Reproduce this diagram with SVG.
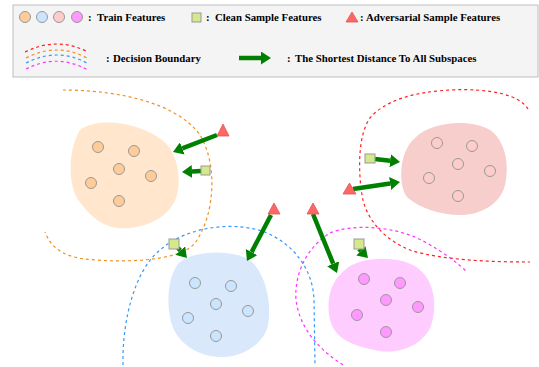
<svg xmlns="http://www.w3.org/2000/svg" width="539" height="367" viewBox="0 0 539 367">
<defs>
<marker id="ah" markerUnits="userSpaceOnUse" markerWidth="10" markerHeight="13" refX="0" refY="6.5" orient="auto"><path d="M0,0 L10,6.5 L0,13 Z" fill="#008000"/></marker>
<style>
.lt{font-family:"Liberation Serif","Times New Roman",serif;font-weight:bold;font-size:10.8px;fill:#000}
.pt{stroke:#999;stroke-width:1}
.o{fill:#ffcc99}.b{fill:#cce5ff}.r{fill:#ffcccc}.m{fill:#ff99ff}
.sq{fill:#d4e88c;stroke:#999;stroke-width:1}
.tr{fill:#f66;stroke:#e05555;stroke-width:0.8}
.db{fill:none;stroke-width:1.2;stroke-dasharray:3 3}
.ar{stroke:#008000;stroke-width:4.5;fill:none;marker-end:url(#ah)}
</style>
</defs>
<rect width="539" height="367" fill="#fff"/>
<g id="legend">
<rect x="13" y="5" width="525" height="72" fill="#f4f4f4" stroke="#bdbdbd" stroke-width="1"/>
<circle class="pt o" cx="25" cy="17" r="5.5"/>
<circle class="pt b" cx="42" cy="17" r="5.5"/>
<circle class="pt r" cx="59" cy="17" r="5.5"/>
<circle class="pt m" cx="77" cy="17" r="5.5"/>
<text class="lt" x="88" y="21">:<tspan x="97">Train Features</tspan></text>
<rect class="sq" x="192" y="13" width="9" height="9"/>
<text class="lt" x="206" y="21">:<tspan x="215">Clean Sample Features</tspan></text>
<polygon class="tr" points="352,12 346,22 358,22"/>
<text class="lt" x="360" y="21">:<tspan x="366">Adversarial Sample Features</tspan></text>
<path class="db" stroke="#ff2020" d="M25,52 Q57,36 88,52"/>
<path class="db" stroke="#f0901e" d="M26,58 Q57,42 87,58"/>
<path class="db" stroke="#3399ff" d="M26,63 Q57,47 87,63"/>
<path class="db" stroke="#ff33ff" d="M26,69 Q57,53 88,70"/>
<text class="lt" x="106" y="62">:<tspan x="113">Decision Boundary</tspan></text>
<line class="ar" x1="239" y1="58" x2="261" y2="58"/>
<text class="lt" x="287" y="62">:<tspan x="295">The Shortest Distance To All Subspaces</tspan></text>
</g>
<g id="cluster-orange">
<path fill="#ffe6cc" d="M80,130 C95,118 135,120 162,140 C178,152 182,180 176,198 C168,220 140,230 118,228 C98,226 85,210 77,198 C68,182 68,150 80,130 Z"/>
<circle class="pt o" cx="98" cy="147" r="5.5"/>
<circle class="pt o" cx="134" cy="151" r="5.5"/>
<circle class="pt o" cx="119" cy="169" r="5.5"/>
<circle class="pt o" cx="151" cy="176" r="5.5"/>
<circle class="pt o" cx="91" cy="183" r="5.5"/>
<circle class="pt o" cx="119" cy="201" r="5.5"/>
</g>
<g id="cluster-blue">
<path fill="#dae8fc" d="M178,264 C190,250 235,248 252,262 C266,275 272,305 268,325 C264,345 240,358 220,357 C198,356 182,345 174,330 C166,312 166,280 178,264 Z"/>
<circle class="pt b" cx="195" cy="283" r="5.5"/>
<circle class="pt b" cx="231" cy="286" r="5.5"/>
<circle class="pt b" cx="216" cy="304" r="5.5"/>
<circle class="pt b" cx="248" cy="311" r="5.5"/>
<circle class="pt b" cx="188" cy="318" r="5.5"/>
<circle class="pt b" cx="216" cy="336" r="5.5"/>
</g>
<g id="cluster-red">
<path fill="#f8cecc" d="M415,138 C430,122 470,118 490,130 C505,140 510,165 505,185 C500,205 480,215 460,215 C440,215 420,208 408,198 C398,188 398,152 415,138 Z"/>
<circle class="pt r" cx="437" cy="143" r="5.5"/>
<circle class="pt r" cx="472" cy="146" r="5.5"/>
<circle class="pt r" cx="458" cy="164" r="5.5"/>
<circle class="pt r" cx="490" cy="171" r="5.5"/>
<circle class="pt r" cx="429" cy="178" r="5.5"/>
<circle class="pt r" cx="458" cy="196" r="5.5"/>
</g>
<g id="cluster-magenta">
<path fill="#ffccff" d="M345,270 C360,255 405,255 420,270 C435,282 438,310 430,328 C420,348 395,355 375,350 C355,346 335,340 330,320 C326,300 330,282 345,270 Z"/>
<circle class="pt m" cx="364" cy="279" r="5.5"/>
<circle class="pt m" cx="400" cy="283" r="5.5"/>
<circle class="pt m" cx="386" cy="300" r="5.5"/>
<circle class="pt m" cx="418" cy="307" r="5.5"/>
<circle class="pt m" cx="357" cy="315" r="5.5"/>
<circle class="pt m" cx="386" cy="332" r="5.5"/>
</g>
<g id="boundaries">
<path class="db" stroke="#f0901e" d="M63,90 C110,90 175,100 200,135 C218,165 215,215 195,243 C180,262 120,263 85,259 C60,256 50,245 45,232"/>
<path class="db" stroke="#3399ff" d="M123,365 C122,320 135,270 160,250 C185,228 230,220 265,232 C295,245 313,270 314,300 L315,365"/>
<path class="db" stroke="#ff2020" d="M528,109 C520,95 490,88 450,90 C415,92 385,100 370,118 C358,135 358,170 362,195 C366,220 385,240 410,250 C440,260 490,262 530,262"/>
<path class="db" stroke="#ff33ff" d="M343,365 C320,350 300,330 296,300 C294,270 310,245 330,233 C350,224 395,225 425,242 C445,253 460,265 467,272"/>
</g>
<g id="connectors">
<line class="ar" x1="217" y1="135" x2="182.3" y2="148.4"/>
<line class="ar" x1="201" y1="171" x2="192" y2="171.5"/>
<line class="ar" x1="178" y1="248" x2="180.3" y2="250.6"/>
<line class="ar" x1="271" y1="215" x2="251.6" y2="252.1"/>
<line class="ar" x1="375" y1="159" x2="390.1" y2="160.8"/>
<line class="ar" x1="353" y1="189" x2="390.1" y2="183.5"/>
<line class="ar" x1="313" y1="214" x2="333.2" y2="263.7"/>
<line class="ar" x1="359" y1="249" x2="360.9" y2="250.9"/>
</g>
<g id="adv-1"><polygon class="tr" points="223,124 217,136 229,136"/></g>
<g id="clean-1"><rect class="sq" x="201" y="166" width="9" height="9"/></g>
<g id="clean-2"><rect class="sq" x="169" y="239" width="10" height="10"/></g>
<g id="adv-2"><polygon class="tr" points="274,203 268,214 280,214"/></g>
<g id="clean-3"><rect class="sq" x="365" y="154" width="10" height="9"/></g>
<g id="adv-3"><polygon class="tr" points="349.5,183 343,194 356,194"/></g>
<g id="adv-4"><polygon class="tr" points="313,203 307,214 319,214"/></g>
<g id="clean-4"><rect class="sq" x="354" y="239" width="10" height="10"/></g>
</svg>
